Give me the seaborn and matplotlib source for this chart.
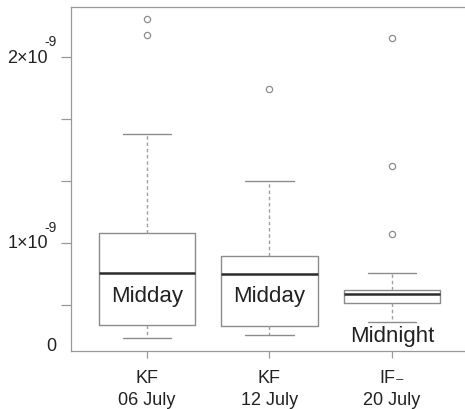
import seaborn as sns
import matplotlib
matplotlib.use('Agg')
import matplotlib.pyplot as plt
import pandas as pd

# Values in units of 1e-9
groups = ['KF\n06 July', 'KF\n12 July', 'IF\u208b\n20 July']
whisker_low = [0.489, 0.505, 0.575]
q1 = [0.559, 0.554, 0.677]
median = [0.839, 0.833, 0.726]
q3 = [1.054, 0.930, 0.747]
whisker_high = [1.586, 1.333, 0.839]
outliers = [[2.118, 2.204], [1.828], [1.048, 1.414, 2.102]]
box_notes = ['Midday', 'Midday', 'Midnight']
tick_vals = [0.667, 1.0, 1.333, 1.667, 2.0]
label_vals = [1.0, 2.0]
label_txt = ['1×10', '2×10']

# Build samples that reproduce the box statistics
rows = []
for i, g in enumerate(groups):
    vals = [whisker_low[i]] + [q1[i]] * 10 + [median[i]] * 10 + [q3[i]] * 10 + [whisker_high[i]] + outliers[i]
    for v in vals:
        rows.append({'site': g, 'flux': v})
df = pd.DataFrame(rows)

sns.set_style('white')
plt.rcParams['font.family'] = ['Liberation Sans', 'DejaVu Sans']

grey = '#8c8c8c'
fig = plt.figure(figsize=(4.65, 4.1), dpi=100)
ax = fig.add_axes([71 / 465, 58 / 410, 419 / 465, 344 / 410])

sns.boxplot(data=df, x='site', y='flux', ax=ax, fill=False, color=grey, width=0.79,
            linewidth=1.0, whis=1.5,
            whiskerprops={'linestyle': (0, (2.5, 2)), 'color': '#a0a0a0'},
            capprops={'color': grey},
            medianprops={'color': '#2b2b2b', 'linewidth': 1.8},
            flierprops={'marker': 'o', 'markersize': 4.5, 'markerfacecolor': 'none',
                        'markeredgecolor': grey, 'markeredgewidth': 0.9})

# text labels inside / under the boxes
note_y = [0.715, 0.715, 0.505]
for i, t in enumerate(box_notes):
    ax.text(i, note_y[i], t, ha='center', va='center', fontsize=16, color='#222222')

ax.set_xlim(-0.62, 2.8)
ax.set_ylim(0.419, 2.269)

# y axis: ticks without labels, labels drawn by hand (R-style superscript)
ax.set_yticks(tick_vals)
ax.set_yticklabels([])
ytr = ax.get_yaxis_transform()
for v, t in zip(label_vals, label_txt):
    ax.text(-0.055, v, t, transform=ytr, ha='right', va='center', fontsize=13,
            color='#222222', clip_on=False)
    ax.text(-0.0625, v + 0.088, '-9', transform=ytr, ha='left', va='center', fontsize=10,
            color='#222222', clip_on=False)
ax.text(-0.036, 0.446, '0', transform=ytr, ha='right', va='center', fontsize=13,
        color='#222222', clip_on=False)

ax.tick_params(axis='y', left=True, length=7, width=0.9, color='#999999')
ax.tick_params(axis='x', bottom=True, length=5, width=0.9, color='#999999', pad=8,
               labelsize=13, labelcolor='#222222')
for lab in ax.get_xticklabels():
    lab.set_linespacing(1.35)
ax.set_xlabel('')
ax.set_ylabel('')

for side in ['left', 'bottom', 'top']:
    ax.spines[side].set_color('#999999')
    ax.spines[side].set_linewidth(0.9)
ax.spines['right'].set_visible(False)

fig.savefig('out.png', dpi=100)
